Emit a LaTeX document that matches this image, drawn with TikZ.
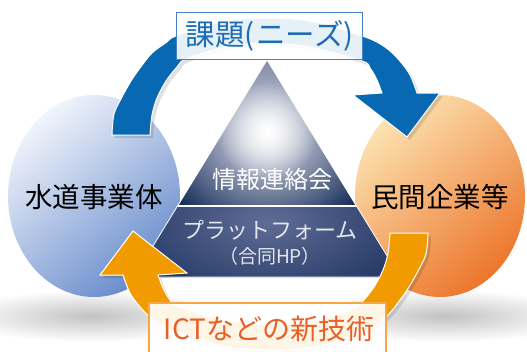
\documentclass[tikz,border=0pt]{standalone}
\usepackage{fontspec}
\setmainfont{Noto Sans CJK JP}
\usetikzlibrary{calc,fadings}
\tikzfading[name=spotfade, inner color=transparent!0, outer color=transparent!100]
\definecolor{tnavy}{RGB}{22,45,90}
\definecolor{tnavytop}{RGB}{78,90,132}
\definecolor{tnavymid}{RGB}{96,108,150}
\definecolor{arrblue}{RGB}{8,105,178}
\definecolor{arrorange}{RGB}{242,155,0}
\definecolor{elblueL}{RGB}{240,244,251}
\definecolor{elblueD}{RGB}{104,140,204}
\definecolor{elorL}{RGB}{252,226,176}
\definecolor{elorD}{RGB}{236,118,44}
\definecolor{boxblue}{RGB}{70,130,200}
\definecolor{txtblue}{RGB}{30,108,180}
\definecolor{boxorange}{RGB}{246,168,64}
\definecolor{txtorange}{RGB}{232,96,40}
\tikzset{
  arrowband/.style={draw=white, line width=1pt, line join=miter},
  labelbox/.style={line width=1.2pt, fill=white, fill opacity=0.9, text opacity=1, inner sep=0pt},
  bigtext/.style={font=\fontsize{27.5}{30}\selectfont, text=black},
  tritext/.style={text=white},
}
\begin{document}
\begin{tikzpicture}[x=1pt,y=-1pt]
\useasboundingbox (0,0) rectangle (527,351);
\clip (0,0) rectangle (527,351);
\fill[white] (0,0) rectangle (527,351);
% shadows
\shade[inner color=black!24, outer color=white] (92,316) ellipse [x radius=140pt, y radius=26pt];
\shade[inner color=black!24, outer color=white] (445,316) ellipse [x radius=140pt, y radius=26pt];
% ellipses
\shade[top color=elblueL, bottom color=elblueD, shading angle=40] (94,196) ellipse [x radius=86pt, y radius=101pt];
\shade[top color=elorL, bottom color=elorD, shading angle=40] (440,196) ellipse [x radius=85pt, y radius=101pt];
\coordinate (lc) at (94,197);
\coordinate (rc) at (440,197);
% triangle upper
\coordinate (apex) at (267,60);
\coordinate (ul) at (178,206);
\coordinate (ur) at (356,206);
\coordinate (bl) at (134,277);
\coordinate (br) at (400,277);
\begin{scope}
\clip (apex) -- (ur) -- (ul) -- cycle;
\shade[top color=tnavytop, bottom color=tnavy] (130,58) rectangle (410,208);
\fill[white!85!tnavytop, path fading=spotfade] (267,132) circle (110pt);
\fill[white, path fading=spotfade] (267,132) circle (50pt);
\end{scope}
\begin{scope}
\clip (ul) -- (ur) -- (br) -- (bl) -- cycle;
\fill[tnavy] (130,200) rectangle (410,280);
\shade[inner color=tnavymid, outer color=tnavy] (267,222) ellipse [x radius=190pt, y radius=100pt];
\end{scope}
\draw[white, line width=0.8pt] (apex) -- (br) -- (bl) -- cycle;
\draw[white, line width=2pt] (ul) -- (ur);
% blue arrow
\def\arrowpath{plot[smooth, tension=0.55] coordinates {(112,135) (114,114) (122,97) (131,81) (140,68) (152,53) (167,42) (176,36) (220,22) (267,18) (315,22) (365,37) (385,47) (399,60) (410,75) (417,93)} -- (440,93) -- (407,137) -- (353,95) -- plot[smooth, tension=0.55] coordinates {(382,93) (377,80) (370,68) (362,61) (310,47) (267,43) (225,47) (186,59) (177,67) (166,81) (157,98) (152,115) (150,135)} -- cycle}
\fill[black, opacity=0.12] [shift={(3,3)}] \arrowpath;
\filldraw[arrowband, fill=arrblue] \arrowpath;
\begin{scope}[rotate around={180:(270,184)}]
\fill[black, opacity=0.12] [shift={(-3,-3)}] \arrowpath;
\filldraw[arrowband, fill=arrorange] \arrowpath;
\end{scope}
% labels
\node[labelbox, draw=boxblue, minimum width=186pt, minimum height=47pt] (top) at (269.5,36) {};
\node[text=txtblue, font=\fontsize{29.5}{32}\selectfont] (toptext) at (269.5,36) {課題(\kern2ptニーズ)};
\node[labelbox, draw=boxorange, minimum width=237pt, minimum height=56pt] (bot) at (267.5,331) {};
\node[text=txtorange, font=\fontsize{28}{30}\selectfont] (bottext) at (269,328.5) {ICTなどの新技術};
\node[bigtext] (left) at (lc) {水道事業体};
\node[bigtext] (right) at (rc) {民間企業等};
\node[tritext, font=\fontsize{24}{26}\selectfont] (t1) at (272,179) {情報連絡会};
\node[tritext, text=white!88!tnavy, font=\fontsize{22}{24}\selectfont] (t2) at (270,230) {プラットフォーム};
\node[tritext, text=white!88!tnavy, font=\fontsize{19}{21}\selectfont] (t3) at (270,256) {（合同HP）};
\end{tikzpicture}
\end{document}
